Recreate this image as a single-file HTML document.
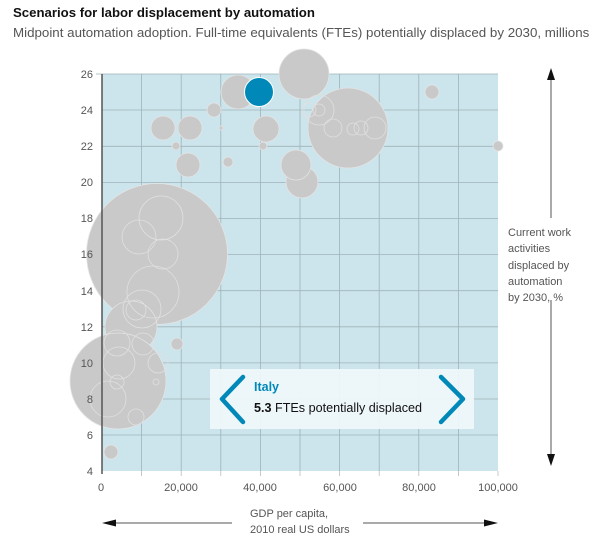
<!DOCTYPE html>
<html><head><meta charset="utf-8"><style>
body{margin:0;background:#fff;}
svg{display:block;font-family:"Liberation Sans",Arial,sans-serif;}
</style></head><body>
<svg width="600" height="550" viewBox="0 0 600 550" xmlns="http://www.w3.org/2000/svg">
<text x="13" y="17" font-size="13.2" font-weight="bold" fill="#111">Scenarios for labor displacement by automation</text>
<text x="13" y="37" font-size="13.35" fill="#555">Midpoint automation adoption. Full-time equivalents (FTEs) potentially displaced by 2030, millions</text>
<rect x="102" y="74" width="396" height="397" fill="#cce4eb"/>
<g stroke="#9fb3b9" stroke-width="0.8">
<line x1="141.6" y1="74" x2="141.6" y2="471"/><line x1="181.2" y1="74" x2="181.2" y2="471"/><line x1="220.8" y1="74" x2="220.8" y2="471"/><line x1="260.4" y1="74" x2="260.4" y2="471"/><line x1="300" y1="74" x2="300" y2="471"/><line x1="339.6" y1="74" x2="339.6" y2="471"/><line x1="379.2" y1="74" x2="379.2" y2="471"/><line x1="418.8" y1="74" x2="418.8" y2="471"/><line x1="458.4" y1="74" x2="458.4" y2="471"/>
<line x1="102" y1="110" x2="498" y2="110"/><line x1="102" y1="146.3" x2="498" y2="146.3"/><line x1="102" y1="182.4" x2="498" y2="182.4"/><line x1="102" y1="218.5" x2="498" y2="218.5"/><line x1="102" y1="254.6" x2="498" y2="254.6"/><line x1="102" y1="290.7" x2="498" y2="290.7"/><line x1="102" y1="326.8" x2="498" y2="326.8"/><line x1="102" y1="362.9" x2="498" y2="362.9"/><line x1="102" y1="399" x2="498" y2="399"/><line x1="102" y1="435" x2="498" y2="435"/>
<line x1="96" y1="74" x2="498" y2="74"/>
</g>
<g stroke="#bbb" stroke-width="0.8"><line x1="141.6" y1="471" x2="141.6" y2="476"/><line x1="181.2" y1="471" x2="181.2" y2="476"/><line x1="220.8" y1="471" x2="220.8" y2="476"/><line x1="260.4" y1="471" x2="260.4" y2="476"/><line x1="300" y1="471" x2="300" y2="476"/><line x1="339.6" y1="471" x2="339.6" y2="476"/><line x1="379.2" y1="471" x2="379.2" y2="476"/><line x1="418.8" y1="471" x2="418.8" y2="476"/><line x1="458.4" y1="471" x2="458.4" y2="476"/><line x1="498" y1="471" x2="498" y2="476"/></g>
<g fill="#c9c9c9" stroke="#e4e4e4" stroke-width="0.8">
<circle cx="157" cy="254" r="70.5"/>
<circle cx="131" cy="327" r="26"/>
<circle cx="118" cy="381" r="48"/>
<circle cx="348" cy="128" r="40"/>
<circle cx="304" cy="74" r="25"/>
<circle cx="238" cy="92" r="17"/>
<circle cx="163" cy="128" r="12"/><circle cx="190" cy="128" r="12"/><circle cx="214" cy="110" r="7"/><circle cx="221" cy="128" r="2"/><circle cx="176" cy="146" r="4"/><circle cx="188" cy="165" r="12"/><circle cx="228" cy="162" r="5"/><circle cx="266" cy="129" r="13"/><circle cx="263" cy="146" r="4"/><circle cx="302" cy="182" r="16"/><circle cx="296" cy="165" r="15"/><circle cx="432" cy="92" r="7"/><circle cx="498" cy="146" r="5"/><circle cx="177" cy="344" r="6"/><circle cx="111" cy="452" r="7"/>
</g>
<g fill="none" stroke="#e0e0e0" stroke-width="0.8">
<circle cx="309" cy="110" r="7"/><circle cx="319" cy="110" r="15"/><circle cx="319" cy="110" r="6"/><circle cx="333" cy="128" r="9"/><circle cx="353" cy="129" r="6"/><circle cx="361" cy="128" r="7"/><circle cx="375" cy="128" r="11"/>
<circle cx="161" cy="218" r="22"/><circle cx="139" cy="237" r="17"/><circle cx="163" cy="254" r="15"/><circle cx="153" cy="292" r="26"/><circle cx="142" cy="309" r="19"/><circle cx="136" cy="310" r="10"/><circle cx="117" cy="343" r="13"/><circle cx="143" cy="344" r="11"/><circle cx="158" cy="363" r="10"/><circle cx="119" cy="363" r="16"/><circle cx="117" cy="382" r="7"/><circle cx="108" cy="399" r="18"/><circle cx="136" cy="417" r="8"/><circle cx="156" cy="382" r="3"/>
</g>
<circle cx="259" cy="92" r="14.5" fill="#0089b8" stroke="#fff" stroke-width="1"/>
<line x1="102" y1="74" x2="102" y2="474" stroke="#555" stroke-width="1.5"/>
<g font-size="11" fill="#555" text-anchor="end">
<text x="93" y="78">26</text><text x="93" y="114">24</text><text x="93" y="150">22</text><text x="93" y="186">20</text><text x="93" y="222">18</text><text x="93" y="258">16</text><text x="93" y="295">14</text><text x="93" y="331">12</text><text x="93" y="367">10</text><text x="93" y="403">8</text><text x="93" y="439">6</text><text x="93" y="475">4</text>
</g>
<g font-size="11" fill="#555" text-anchor="middle">
<text x="101" y="491">0</text><text x="181" y="491">20,000</text><text x="260" y="491">40,000</text><text x="340" y="491">60,000</text><text x="419" y="491">80,000</text><text x="498" y="491">100,000</text>
</g>
<rect x="210" y="369" width="264" height="60" fill="#eef7fa" opacity="0.95"/>
<polyline points="243,377 222,399 243,422" fill="none" stroke="#0089b8" stroke-width="4.5" stroke-linecap="round" stroke-linejoin="round"/>
<polyline points="441,377 463,399 441,422" fill="none" stroke="#0089b8" stroke-width="4.5" stroke-linecap="round" stroke-linejoin="round"/>
<text x="254" y="391" font-size="12.5" font-weight="bold" fill="#0089b8">Italy</text>
<text x="254" y="412" font-size="12.6" fill="#111"><tspan font-weight="bold">5.3</tspan> FTEs potentially displaced</text>
<g font-size="11" fill="#555">
<text x="508" y="236">Current work</text><text x="508" y="252">activities</text><text x="508" y="269">displaced by</text><text x="508" y="285">automation</text><text x="508" y="301">by 2030, %</text>
<text x="250" y="517">GDP per capita,</text><text x="250" y="533">2010 real US dollars</text>
</g>
<g stroke="#555" stroke-width="1">
<line x1="551" y1="76" x2="551" y2="218"/><line x1="551" y1="300" x2="551" y2="459"/>
<line x1="110" y1="523" x2="232" y2="523"/><line x1="363" y1="523" x2="490" y2="523"/>
</g>
<g fill="#111">
<polygon points="551,68 547,80 555,80"/><polygon points="551,466 547,454 555,454"/>
<polygon points="102,523 116,519.5 116,526.5"/><polygon points="498,523 484,519.5 484,526.5"/>
</g>
</svg>
</body></html>
